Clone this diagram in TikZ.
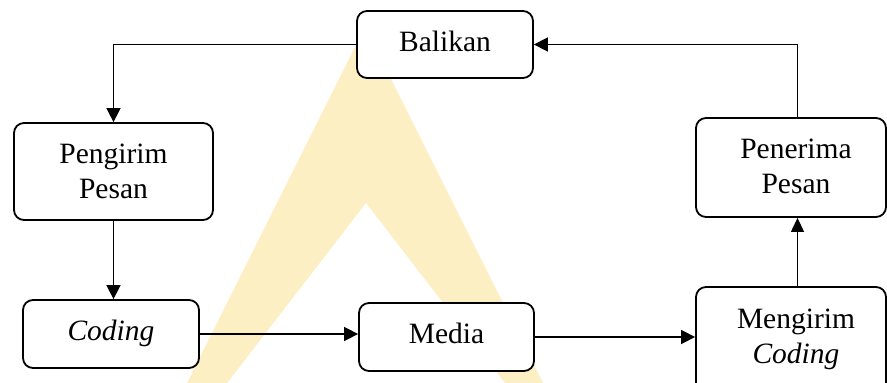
\documentclass[tikz,border=0pt]{standalone}
\usepackage{fontspec}
\setmainfont{Liberation Serif}
\usetikzlibrary{arrows.meta}
\definecolor{markyellow}{RGB}{253,239,196}

\begin{document}
\begin{tikzpicture}[x=1pt,y=-1pt,
  every node/.style={font=\fontsize{29.5}{35}\selectfont, text=black},
  box/.style={draw, rounded corners=10pt, fill=white, line width=1.8pt,
              inner sep=0pt, align=center},
  oneline/.style={text height=20pt, text depth=6.5pt},
  txt/.style={inner sep=0pt, align=center},
  arr/.style={line width=1.6pt, -{Triangle[length=14pt,width=14pt]}},
  thinarr/.style={line width=1.1pt, -{Triangle[length=14pt,width=13pt]}}]

\useasboundingbox (0,0) rectangle (887,383);
\clip (0,0) rectangle (887,383);

% pale background mark
\fill[markyellow] (178.5,400) -- (365,27) -- (551.5,400) -- (518,400)
  -- (366,203) -- (214,400) -- cycle;

% boxes
\node[box, oneline, minimum width=176pt, minimum height=67pt] (bal) at (445,44.5) {Balikan};
\node[box, minimum width=199pt, minimum height=97pt] (peng) at (113.5,171.5) {Pengirim\\Pesan};
\node[box, oneline, minimum width=176pt, minimum height=68pt] (cod) at (111,334) {\textit{Coding}};
\node[box, oneline, minimum width=175pt, minimum height=68pt] (med) at (446.5,337) {Media};
\node[box, minimum width=190pt, minimum height=99pt] (pen) at (791,167.5) {};
\node[box, minimum width=190pt, minimum height=113pt] (meng) at (791,343.5) {};
\node[txt] (pentext) at (796,166.5) {Penerima\\Pesan};
\node[txt] (mengtext) at (796,339) {Mengirim\\\textit{Coding}};

% connectors
\coordinate (vx) at (797.5,0);
\draw[arr] (bal.west) -| (peng.north);
\draw[arr] (peng.south) -- (peng.south |- cod.north);
\draw[arr] (cod.east) -- (cod.east -| med.west);
\draw[arr] (med.east) -- (med.east -| meng.west);
\draw[thinarr] (meng.north -| vx) -- (pen.south -| vx);
\draw[arr] (pen.north -| vx) |- (bal.east);
\end{tikzpicture}
\end{document}
